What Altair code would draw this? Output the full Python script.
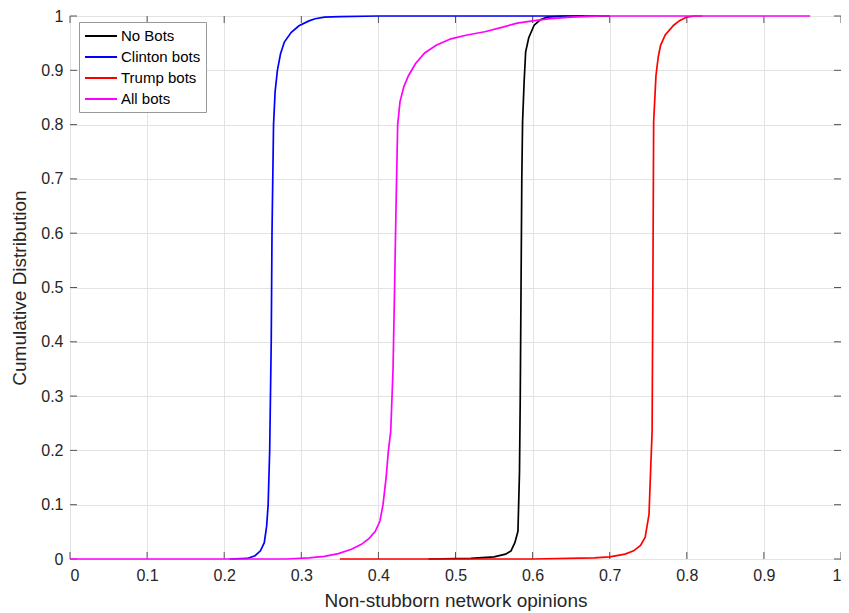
import altair as alt
import pandas as pd

series_names = ["No Bots", "Clinton bots", "Trump bots", "All bots"]
series_colors = ["#000000", "#0000ff", "#ff0000", "#ff00ff"]

nobots_x = [0.465, 0.52, 0.55, 0.565, 0.572, 0.577, 0.581, 0.583, 0.584, 0.585, 0.586, 0.587, 0.589, 0.591, 0.595, 0.602, 0.61, 0.619, 0.64, 0.70]
nobots_y = [0.0, 0.001, 0.004, 0.009, 0.015, 0.03, 0.051, 0.16, 0.3, 0.5, 0.7, 0.805, 0.879, 0.934, 0.96, 0.983, 0.993, 0.998, 1.0, 1.0]

clinton_x = [0.207, 0.23, 0.240, 0.247, 0.252, 0.255, 0.257, 0.259, 0.261, 0.262, 0.264, 0.266, 0.269, 0.273, 0.278, 0.287, 0.297, 0.31, 0.318, 0.33, 0.35, 0.40, 0.667]
clinton_y = [0.0, 0.001, 0.006, 0.015, 0.03, 0.06, 0.10, 0.2, 0.4, 0.6, 0.8, 0.86, 0.9, 0.93, 0.952, 0.97, 0.982, 0.991, 0.995, 0.998, 0.999, 1.0, 1.0]

trump_x = [0.35, 0.6, 0.68, 0.70, 0.72, 0.731, 0.74, 0.746, 0.751, 0.753, 0.755, 0.756, 0.757, 0.76, 0.763, 0.766, 0.772, 0.783, 0.79, 0.80, 0.81, 0.82]
trump_y = [0.0, 0.0, 0.002, 0.004, 0.009, 0.015, 0.025, 0.04, 0.082, 0.16, 0.235, 0.5, 0.805, 0.89, 0.925, 0.946, 0.965, 0.983, 0.991, 0.998, 1.0, 1.0]

allbots_x = [0.0, 0.28, 0.31, 0.33, 0.348, 0.365, 0.378, 0.388, 0.396, 0.402, 0.406, 0.410, 0.413, 0.416, 0.419, 0.421, 0.423, 0.425, 0.428, 0.433, 0.439, 0.448, 0.46, 0.475, 0.494, 0.515, 0.538, 0.56, 0.58, 0.60, 0.623, 0.65, 0.69, 0.96]
allbots_y = [0.0, 0.0, 0.002, 0.005, 0.01, 0.018, 0.027, 0.038, 0.051, 0.07, 0.10, 0.15, 0.20, 0.235, 0.35, 0.5, 0.658, 0.80, 0.842, 0.87, 0.89, 0.912, 0.932, 0.946, 0.958, 0.965, 0.971, 0.979, 0.987, 0.991, 0.995, 0.998, 1.0, 1.0]

tick_vals = [0, 0.1, 0.2, 0.3, 0.4, 0.5, 0.6, 0.7, 0.8, 0.9, 1]

rows = []
for name, xs, ys in [("No Bots", nobots_x, nobots_y), ("Clinton bots", clinton_x, clinton_y),
                     ("Trump bots", trump_x, trump_y), ("All bots", allbots_x, allbots_y)]:
    for i, (x, y) in enumerate(zip(xs, ys)):
        rows.append({"series": name, "x": x, "y": y, "i": i})
df = pd.DataFrame(rows)
ticks_df = pd.DataFrame({"t": tick_vals})

W, H = 771, 543
FONT = "Liberation Sans"
xscale = alt.Scale(domain=[0, 1], nice=False, zero=False)
yscale = alt.Scale(domain=[0, 1], nice=False, zero=False)

lines = alt.Chart(df).mark_line(strokeWidth=1.7).encode(
    x=alt.X("x:Q", scale=xscale,
            axis=alt.Axis(title="Non-stubborn network opinions", values=tick_vals, format="~g",
                          grid=True, gridColor="#e3e3e3", ticks=False, domain=False,
                          labelFont=FONT, labelFontSize=16, labelColor="#262626", labelPadding=8,
                          titleFont=FONT, titleFontSize=19, titleFontWeight="normal",
                          titleColor="#262626", titlePadding=8)),
    y=alt.Y("y:Q", scale=yscale,
            axis=alt.Axis(title="Cumulative Distribution", values=tick_vals, format="~g",
                          grid=True, gridColor="#e3e3e3", ticks=False, domain=False,
                          labelFont=FONT, labelFontSize=16, labelColor="#262626", labelPadding=7,
                          titleFont=FONT, titleFontSize=19, titleFontWeight="normal",
                          titleColor="#262626", titlePadding=11)),
    color=alt.Color("series:N", scale=alt.Scale(domain=series_names, range=series_colors),
                    legend=alt.Legend(title=None, orient="none", legendX=9, legendY=6,
                                      symbolType="M-1,0L3,0", symbolStrokeWidth=2, symbolSize=256,
                                      labelFont=FONT, labelFontSize=15, labelColor="#000000",
                                      labelOffset=19, rowPadding=4, padding=5,
                                      strokeColor="#999999", fillColor="#ffffff")),
    detail="series:N",
    order="i:Q",
)

tick_color = "#555555"
bottom_ticks = alt.Chart(ticks_df).mark_rule(color=tick_color, strokeWidth=1).encode(
    x=alt.X("t:Q", scale=xscale), y=alt.value(H), y2=alt.value(H - 7))
top_ticks = alt.Chart(ticks_df).mark_rule(color=tick_color, strokeWidth=1).encode(
    x=alt.X("t:Q", scale=xscale), y=alt.value(0), y2=alt.value(7))
left_ticks = alt.Chart(ticks_df).mark_rule(color=tick_color, strokeWidth=1).encode(
    y=alt.Y("t:Q", scale=yscale), x=alt.value(0), x2=alt.value(7))
right_ticks = alt.Chart(ticks_df).mark_rule(color=tick_color, strokeWidth=1).encode(
    y=alt.Y("t:Q", scale=yscale), x=alt.value(W), x2=alt.value(W - 7))

chart = alt.layer(bottom_ticks, top_ticks, left_ticks, right_ticks, lines).properties(
    width=W, height=H,
    autosize=alt.AutoSizeParams(type="none"),
    padding={"left": 62, "top": 8, "right": 0, "bottom": 52},
).configure_view(stroke="#7a7a7a", strokeWidth=1).configure(background="#ffffff")

chart.save("out.html", embed_options={"renderer": "svg", "actions": False})
